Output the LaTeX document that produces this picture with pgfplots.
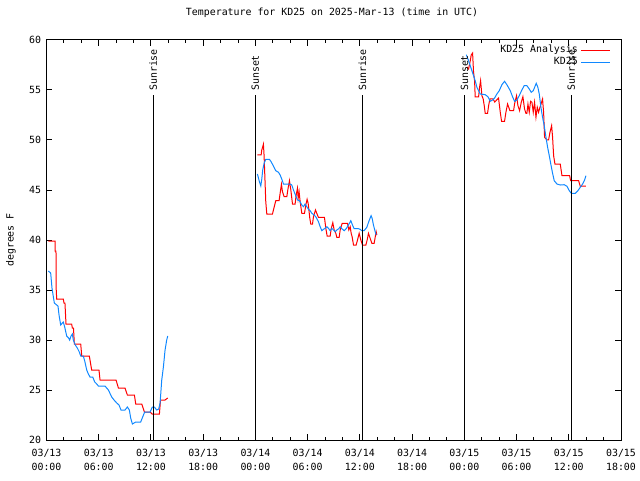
\documentclass[border=0pt]{standalone}
\usepackage{fontspec}
\setmainfont{DejaVu Sans Mono}
\usepackage{pgfplots}
\usepackage{pgfplotstable}
\pgfplotsset{compat=1.18}
\definecolor{gblue}{RGB}{16,136,255}
\newcommand{\gf}{\fontsize{9.9pt}{14pt}\selectfont}

\pgfplotstableread{
h T
0.21 39.9
0.98 39.9
1.0 38.9
1.09 38.9
1.12 35.0
1.17 34.1
1.93 34.1
2.01 33.7
2.12 33.7
2.24 31.6
2.89 31.6
2.97 31.2
3.1 31.2
3.2 29.6
3.93 29.6
4.05 28.4
4.92 28.4
5.19 27.0
6.03 27.0
6.15 26.0
7.99 26.0
8.26 25.2
9.02 25.2
9.29 24.5
10.1 24.5
10.25 23.6
10.94 23.6
11.25 22.8
11.9 22.8
12.13 22.6
12.97 22.6
13.1 24.0
13.62 24.0
13.93 24.2
18.0 nan
24.23 48.5
24.66 48.5
24.73 49.0
24.92 49.57
25.0 48.4
25.19 43.83
25.31 42.6
25.96 42.6
26.07 43.0
26.34 43.93
26.72 43.93
26.84 44.67
26.99 45.57
27.11 44.83
27.3 44.33
27.61 44.33
27.72 45.0
27.91 45.93
28.07 45.0
28.26 43.6
28.56 43.6
28.68 44.5
28.83 45.17
28.91 44.17
29.02 44.83
29.14 43.83
29.33 42.67
29.64 42.67
29.79 43.5
29.94 44.07
30.06 43.67
30.25 42.17
30.36 41.6
30.56 41.6
30.67 42.33
30.9 43.0
31.05 42.67
31.24 42.27
31.93 42.27
32.09 41.17
32.24 40.4
32.59 40.4
32.7 41.1
32.89 41.73
33.05 41.0
33.24 40.67
33.35 40.27
33.62 40.27
33.74 41.0
33.85 41.33
33.97 41.67
34.58 41.67
34.73 41.0
34.89 41.33
35.0 40.67
35.11 40.33
35.27 39.5
35.57 39.5
35.73 40.0
35.92 40.67
36.11 40.0
36.3 39.5
36.69 39.5
36.84 40.0
36.99 40.67
37.18 40.17
37.38 39.67
37.64 39.67
37.76 40.27
37.87 40.83
37.95 40.5
42.0 nan
48.3 57.3
48.49 57.1
48.68 57.9
48.79 58.5
48.95 58.7
49.06 56.8
49.18 55.9
49.25 54.3
49.64 54.3
49.75 55.27
49.87 55.93
50.02 54.43
50.17 54.1
50.29 53.43
50.4 52.67
50.67 52.67
50.79 53.43
50.94 54.1
51.3 54.1
51.5 53.8
51.93 54.2
52.13 52.77
52.28 51.87
52.62 51.87
52.78 52.77
52.97 53.6
53.24 52.93
53.66 52.93
53.77 53.6
54.0 54.43
54.16 53.43
54.35 52.93
54.54 53.77
54.73 54.33
54.92 53.1
55.08 52.67
55.19 52.67
55.31 53.6
55.46 52.77
55.61 53.87
55.77 53.77
55.92 52.77
56.07 53.77
56.23 52.27
56.38 53.27
56.53 52.77
56.69 53.27
56.84 53.67
56.99 54.1
57.03 53.6
57.11 52.77
57.22 50.27
57.49 50.0
57.68 50.0
57.84 50.77
58.03 51.43
58.14 50.27
58.26 48.43
58.41 47.6
59.02 47.6
59.22 46.43
60.1 46.43
60.21 45.93
61.13 45.93
61.32 45.37
61.97 45.4
}\redtab

\pgfplotstableread{
h T
0.21 36.9
0.48 36.7
0.63 35.2
0.79 34.3
0.9 33.7
1.17 33.5
1.32 33.4
1.44 32.5
1.63 31.5
1.82 31.7
1.93 31.8
2.09 31.3
2.32 30.4
2.55 30.2
2.66 30.0
2.82 30.4
2.97 30.6
3.08 30.0
3.31 29.5
3.54 29.2
3.77 28.8
3.93 28.4
4.23 28.4
4.39 27.9
4.62 27.0
4.81 26.6
5.0 26.3
5.31 26.3
5.54 25.8
5.77 25.6
5.96 25.4
6.72 25.4
7.11 25.0
7.49 24.3
7.76 24.0
8.07 23.7
8.33 23.5
8.56 23.0
9.02 23.0
9.29 23.3
9.52 23.0
9.67 22.2
9.87 21.6
10.25 21.8
10.82 21.8
11.05 22.3
11.28 22.8
11.9 22.8
12.16 23.3
12.39 23.3
12.66 23.0
12.89 23.1
13.05 23.7
13.24 26.0
13.43 27.3
13.62 29.0
13.81 30.0
13.93 30.4
18.0 nan
24.23 46.6
24.46 45.83
24.62 45.4
24.73 46.07
24.84 47.0
25.0 47.67
25.19 48.07
25.61 48.07
25.8 47.83
26.07 47.4
26.34 46.93
26.65 46.77
26.84 46.5
27.07 46.0
27.22 45.6
27.99 45.6
28.18 45.5
28.37 45.0
28.6 44.5
28.83 44.0
29.06 43.93
29.33 43.5
29.52 43.33
29.71 43.6
29.9 43.33
30.1 43.07
30.29 42.93
30.48 42.67
30.75 42.5
30.98 42.27
31.24 41.83
31.44 41.33
31.63 40.93
31.82 41.07
32.01 41.17
32.2 41.33
32.39 41.17
32.59 40.93
32.78 41.17
32.97 41.0
33.16 40.83
33.35 41.0
33.58 41.13
33.74 41.33
33.93 41.13
34.2 40.93
34.43 41.13
34.69 41.5
34.96 41.93
35.15 41.5
35.34 41.13
35.84 41.13
36.03 41.07
36.22 40.93
36.49 40.93
36.8 41.27
37.06 41.93
37.29 42.43
37.41 42.17
37.56 41.5
37.76 40.83
37.87 40.5
42.0 nan
48.22 58.53
48.49 57.93
48.68 57.43
48.87 56.93
49.06 56.43
49.25 55.93
49.45 55.27
49.64 54.93
49.83 54.6
50.4 54.53
50.71 54.33
50.98 53.87
51.25 54.0
51.48 54.2
51.74 54.6
52.01 54.93
52.32 55.53
52.62 55.87
52.89 55.53
53.28 54.93
53.54 54.33
53.77 53.87
54.04 54.0
54.31 54.43
54.61 55.0
54.88 55.43
55.19 55.43
55.46 55.1
55.69 54.77
55.92 54.93
56.15 55.43
56.26 55.67
56.45 55.27
56.61 54.6
56.8 53.27
56.99 52.27
57.18 51.43
57.38 50.27
57.57 49.27
57.76 48.43
57.95 47.53
58.14 46.67
58.33 45.93
58.64 45.6
59.02 45.5
59.48 45.53
59.79 45.37
60.06 44.93
60.29 44.67
60.75 44.67
61.05 44.93
61.32 45.27
61.59 45.6
61.82 46.0
61.97 46.43
}\bluetab

\begin{document}
\begin{tikzpicture}
\path[use as bounding box] (-46.5pt,-40pt) rectangle (593.5pt,440pt);
\begin{axis}[
  at={(0pt,0pt)}, anchor=south west,
  scale only axis, width=574.5pt, height=400pt,
  xmin=0, xmax=66, ymin=20, ymax=60,
  xtick={0,6,...,66},
  xticklabels={{03/13\\00:00},{03/13\\06:00},{03/13\\12:00},{03/13\\18:00},{03/14\\00:00},{03/14\\06:00},{03/14\\12:00},{03/14\\18:00},{03/15\\00:00},{03/15\\06:00},{03/15\\12:00},{03/15\\18:00}},
  minor x tick num=2,
  ytick={20,25,...,60},
  tick align=inside,
  major tick length=6pt, minor tick length=3pt,
  axis line style={line width=1pt},
  every tick/.style={black, line width=1pt},
  xticklabel style={align=center, font=\gf, yshift=-6pt},
  yticklabel style={font=\gf, xshift=-2pt},
  /pgf/number format/assume math mode=true,
  title={Temperature for KD25 on 2025-Mar-13 (time in UTC)},
  title style={font=\gf, at={(rel axis cs:0.497,1.0525)}, anchor=center},
  ylabel={degrees F},
  ylabel style={font=\gf, at={(rel axis cs:-0.0618,0.5)}, anchor=center},
  unbounded coords=jump,
  clip=false,
  legend plot pos=right,
  legend cell align=right,
  legend image code/.code={\draw[#1] (0pt,0pt) -- (29pt,0pt);},
  legend style={draw=none, fill=none, at={(rel axis cs:0.9826,0.989)}, anchor=north east,
    font=\gf, inner sep=0pt, row sep=1pt, column sep=2pt,
    nodes={inner sep=1pt, text height=7pt, text depth=2pt}},
]
\addplot[red, line width=1pt] table[x=h, y=T] {\redtab};
\addlegendentry{KD25 Analysis}
\addplot[gblue, line width=1pt] table[x=h, y=T] {\bluetab};
\addlegendentry{KD25}
\addplot[black, line width=1pt, forget plot] coordinates {(12.27,20) (12.27,54.5)};
\addplot[black, line width=1pt, forget plot] coordinates {(23.98,20) (23.98,54.5)};
\addplot[black, line width=1pt, forget plot] coordinates {(36.3,20) (36.3,54.5)};
\addplot[black, line width=1pt, forget plot] coordinates {(48.03,20) (48.03,54.5)};
\addplot[black, line width=1pt, forget plot] coordinates {(60.29,20) (60.29,54.5)};
\node[rotate=90, anchor=west, font=\gf, inner sep=1pt] at (axis cs:12.27,54.8) {Sunrise};
\node[rotate=90, anchor=west, font=\gf, inner sep=1pt] at (axis cs:23.98,54.8) {Sunset};
\node[rotate=90, anchor=west, font=\gf, inner sep=1pt] at (axis cs:36.3,54.8) {Sunrise};
\node[rotate=90, anchor=west, font=\gf, inner sep=1pt] at (axis cs:48.03,54.8) {Sunset};
\node[rotate=90, anchor=west, font=\gf, inner sep=1pt] at (axis cs:60.29,54.8) {Sunrise};
\end{axis}
\end{tikzpicture}
\end{document}
